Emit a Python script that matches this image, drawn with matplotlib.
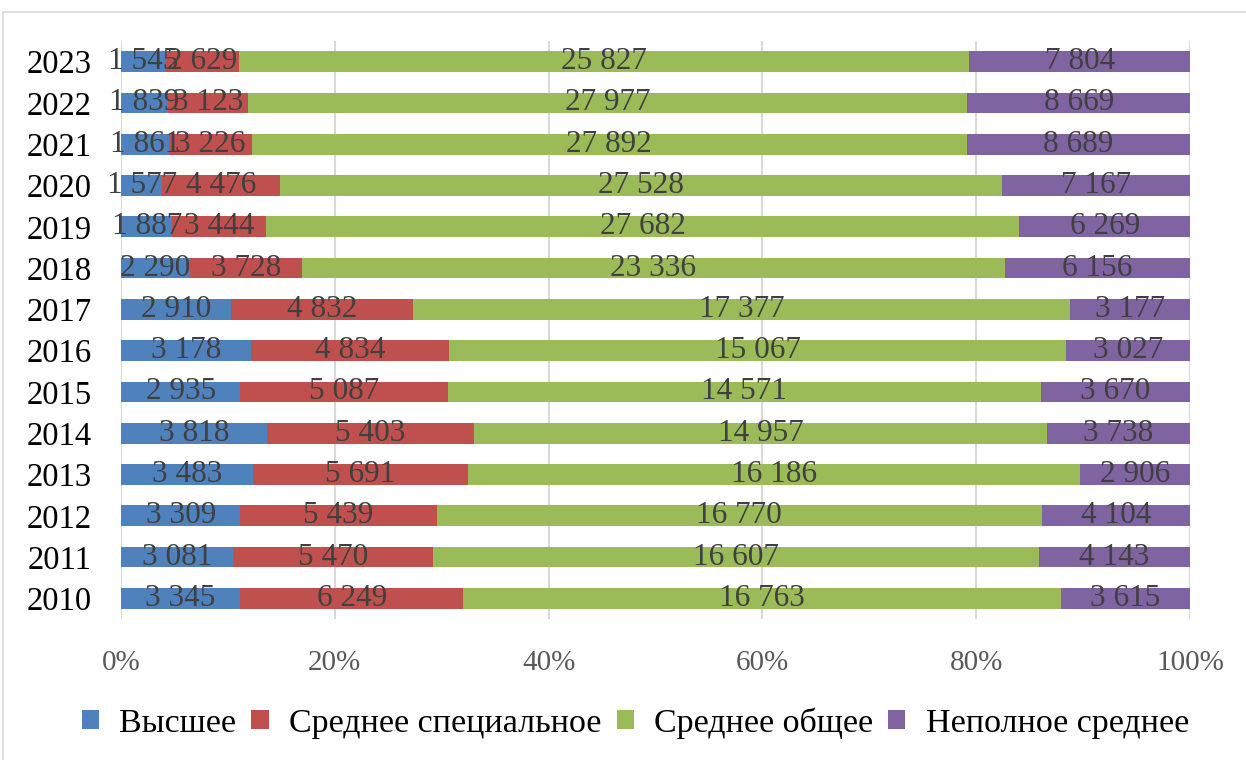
import matplotlib
matplotlib.use("Agg")
import matplotlib.pyplot as plt
from matplotlib.patches import Rectangle, Patch
import numpy as np

years = ["2010", "2011", "2012", "2013", "2014", "2015", "2016",
         "2017", "2018", "2019", "2020", "2021", "2022", "2023"]
higher = [3345, 3081, 3309, 3483, 3818, 2935, 3178, 2910, 2290, 1887, 1577, 1861, 1839, 1545]
sec_special = [6249, 5470, 5439, 5691, 5403, 5087, 4834, 4832, 3728, 3444, 4476, 3226, 3123, 2629]
sec_general = [16763, 16607, 16770, 16186, 14957, 14571, 15067, 17377, 23336, 27682, 27528, 27892, 27977, 25827]
incomplete = [3615, 4143, 4104, 2906, 3738, 3670, 3027, 3177, 6156, 6269, 7167, 8689, 8669, 7804]
series_names = ["Высшее", "Среднее специальное", "Среднее общее", "Неполное среднее"]
colors = ["#4F81BD", "#C0504D", "#9BBB59", "#8064A2"]
xticklabels = ["0%", "20%", "40%", "60%", "80%", "100%"]

plt.rcParams['font.family'] = ['Liberation Serif', 'DejaVu Serif']

W, H = 1246, 760
fig = plt.figure(figsize=(W / 100, H / 100), dpi=100)
ax = fig.add_axes([121 / W, 1 - 619 / H, (1190 - 121) / W, (619 - 41) / H])

data = np.array([higher, sec_special, sec_general, incomplete], dtype=float)
totals = data.sum(axis=0)
shares = data / totals * 100
y = np.arange(len(years))
left = np.zeros(len(years))
for i in range(4):
    ax.barh(y, shares[i], left=left, height=0.5, color=colors[i], zorder=2)
    for j in range(len(years)):
        txt = f"{int(data[i, j]):,}".replace(",", " ")
        ax.text(left[j] + shares[i, j] / 2, y[j], txt, ha="center", va="center",
                fontsize=22.5, color="#404040", zorder=3)
    left += shares[i]

ax.set_xlim(0, 100)
ax.set_ylim(-0.5, len(years) - 0.5)
ax.set_xticks([0, 20, 40, 60, 80, 100])
ax.set_xticklabels(xticklabels, fontsize=21, color="#595959")
ax.set_yticks(y)
ax.set_yticklabels(years, fontsize=23.5, color="black")
ax.tick_params(axis="x", length=0, pad=22)
ax.tick_params(axis="y", length=0, pad=21)
for s in ax.spines.values():
    s.set_visible(False)
ax.grid(axis="x", color="#D9D9D9", lw=1.5, zorder=0)
ax.set_axisbelow(True)

handles = [Patch(facecolor=c, edgecolor="none") for c in colors]
fig.legend(handles, series_names, loc="center", bbox_to_anchor=(0.51, 1 - 723 / H),
           ncol=4, frameon=False, fontsize=24.5, handlelength=0.5, handleheight=0.5,
           handletextpad=0.6, columnspacing=0.45)

fig.add_artist(Rectangle((3 / W, -0.1), 1.2, 1 - 12 / H + 0.1, transform=fig.transFigure,
                         fill=False, edgecolor="#D9D9D9", lw=1.2, clip_on=False))

fig.savefig("out.png", dpi=100)
